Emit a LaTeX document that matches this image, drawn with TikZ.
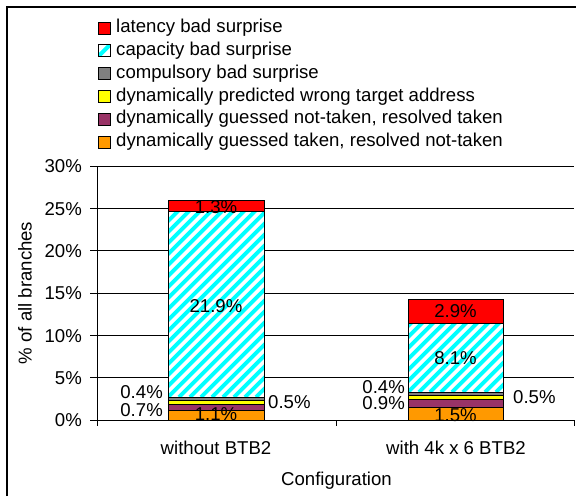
\documentclass[tikz,border=0pt]{standalone}
\usepackage{fontspec}
\setmainfont{Liberation Sans}
\definecolor{cred}{RGB}{255,0,0}
\definecolor{ccyan}{RGB}{0,255,255}
\definecolor{cgray}{RGB}{128,128,128}
\definecolor{cyel}{RGB}{255,255,0}
\definecolor{cpurp}{RGB}{153,51,102}
\definecolor{corange}{RGB}{255,153,0}
\newcommand\myhatch[4]{%
  \begin{scope}
    \clip (#1,#2) rectangle (#3,#4);
    \fill[white] (#1,#2) rectangle (#3,#4);
    \foreach \k in {-20,...,10} \draw[ccyan, line width=4pt] ({#1+11*\k},#2) -- ++(200,-200);
  \end{scope}
  \draw[segb] (#1,#2) rectangle (#3,#4);}
\begin{document}
\begin{tikzpicture}[x=1pt,y=-1pt,
  every node/.style={font=\fontsize{18.6}{22}\selectfont, inner sep=0pt},
  segb/.style={draw=black, line width=0.8pt},
  grid/.style={draw=black, line width=0.7pt},
  legtext/.style={anchor=west, text height=13.5pt, text depth=4pt},
  lbl/.style={anchor=base}]
\useasboundingbox (0,0) rectangle (576,496);
% outer frame (partially visible)
\draw[line width=1.4pt] (7,496) -- (7,7) -- (576,7);
% legend
\foreach \c/\t [count=\i] in {cred/latency bad surprise,ccyan/capacity bad surprise,cgray/compulsory bad surprise,cyel/dynamically predicted wrong target address,cpurp/{dynamically guessed not-taken, resolved taken},corange/{dynamically guessed taken, resolved not-taken}}{
  \pgfmathsetmacro\yy{28+22.8*(\i-1)}
  \ifnum\i=2
    \begin{scope}
      \clip (98,\yy-6) rectangle (110,\yy+6);
      \fill[white] (98,\yy-6) rectangle (110,\yy+6);
      \draw[ccyan, line width=4pt] (96,\yy+8) -- ++(16,-16);
    \end{scope}
    \draw[segb] (98,\yy-6) rectangle (110,\yy+6);
  \else
    \draw[segb, fill=\c] (98,\yy-6) rectangle (110,\yy+6);
  \fi
  \node[legtext] (leg\i) at (116,\yy) {\t};
}
% gridlines
\foreach \v in {5,10,...,30}{
  \draw[grid] (97,{420-8.46*\v}) -- (574,{420-8.46*\v});
}
% axes
\draw[line width=0.8pt] (97,{420-8.46*30}) -- (97,420) -- (574,420);
\foreach \v in {0,5,...,30}{
  \draw[line width=0.8pt] (90,{420-8.46*\v}) -- (97,{420-8.46*\v});
  \node[anchor=base east] (tick\v) at (82,{420-8.46*\v+6.6}) {\v\%};
}
\foreach \x in {97,336,574} \draw[line width=0.8pt] (\x,420) -- (\x,426);
% bar 1
\draw[segb, fill=corange] (168,420) rectangle (264,410.69);
\draw[segb, fill=cpurp] (168,410.69) rectangle (264,404.77);
\draw[segb, fill=cyel] (168,404.77) rectangle (264,400.54);
\draw[segb, fill=cgray] (168,400.54) rectangle (264,397.16);
\myhatch{168}{397.16}{264}{211.88}
\draw[segb, fill=cred] (168,211.88) rectangle (264,200.89);
% bar 2
\draw[segb, fill=corange] (408,420) rectangle (503,407.31);
\draw[segb, fill=cpurp] (408,407.31) rectangle (503,399.70);
\draw[segb, fill=cyel] (408,399.70) rectangle (503,395.47);
\draw[segb, fill=cgray] (408,395.47) rectangle (503,392.08);
\myhatch{408}{392.08}{503}{323.56}
\draw[segb, fill=cred] (408,323.56) rectangle (503,299.02);
% data labels bar 1
\node[lbl] (b1red) at (216,213) {1.3\%};
\node[lbl] (b1cap) at (216,312) {21.9\%};
\node[anchor=base east] (b1gray) at (163,398) {0.4\%};
\node[anchor=base east] (b1purp) at (163,416) {0.7\%};
\node[anchor=base west] (b1yel) at (268,408.5) {0.5\%};
\node[lbl] (b1or) at (216,420.5) {1.1\%};
% data labels bar 2
\node[lbl] (b2red) at (455.5,317.5) {2.9\%};
\node[lbl] (b2cap) at (455.5,364) {8.1\%};
\node[anchor=base east] (b2gray) at (405,393) {0.4\%};
\node[anchor=base east] (b2purp) at (405,409.5) {0.9\%};
\node[anchor=base west] (b2yel) at (513,403.5) {0.5\%};
\node[lbl] (b2or) at (455.5,421) {1.5\%};
% category labels
\node[lbl] (cat1) at (216,454.5) {without BTB2};
\node[lbl] (cat2) at (456,454.5) {with 4k x 6 BTB2};
\node[lbl] (xlab) at (336.5,485) {Configuration};
\node[rotate=90] (ylab) at (25,293) {\% of all branches};
\end{tikzpicture}
\end{document}
